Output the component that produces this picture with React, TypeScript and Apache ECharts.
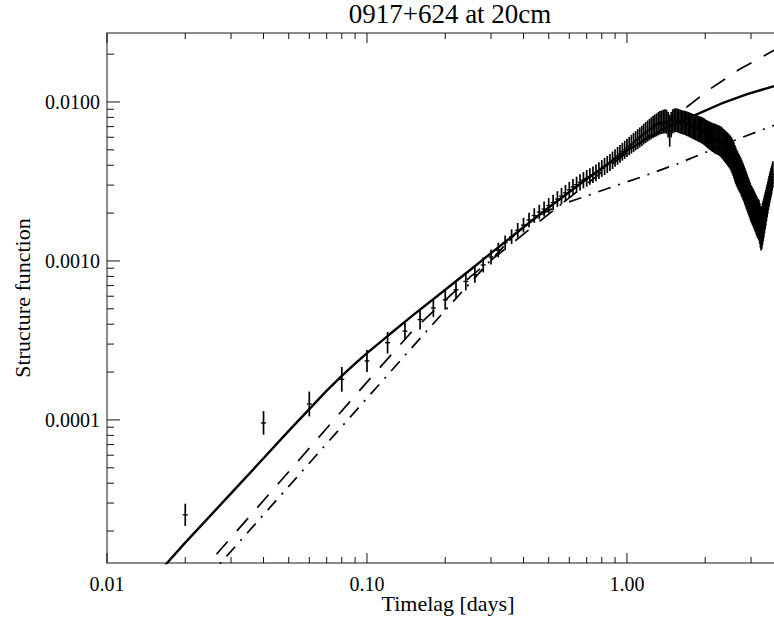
import { useEffect, useRef } from "react";
import * as echarts from "echarts";

// ---- axis ranges ----
const X_MIN = 0.01;
const X_MAX = 4.2;
const Y_MIN = 1.259e-5;
const Y_MAX = 0.02716;

// ---- tick values / labels ----
const xMajorTicks = [0.01, 0.1, 1];
const xMajorLabels = ["0.01", "0.10", "1.00"];
const xMinorTicks = [0.02, 0.03, 0.04, 0.05, 0.06, 0.07, 0.08, 0.09, 0.2, 0.3, 0.4, 0.5, 0.6, 0.7, 0.8, 0.9, 2, 3, 4];
const yMajorTicks = [0.0001, 0.001, 0.01];
const yMajorLabels = ["0.0001", "0.0010", "0.0100"];
const yMinorTicks = [
  2e-5, 3e-5, 4e-5, 5e-5, 6e-5, 7e-5, 8e-5, 9e-5,
  2e-4, 3e-4, 4e-4, 5e-4, 6e-4, 7e-4, 8e-4, 9e-4,
  2e-3, 3e-3, 4e-3, 5e-3, 6e-3, 7e-3, 8e-3, 9e-3,
  0.02,
];

// ---- measured structure function (lags binned every 0.02 d) ----
const sfValues = [
  2.53e-5, 9.57e-5, 1.26e-4, 1.80e-4, 2.35e-4, 3.06e-4, 3.62e-4, 4.28e-4, 5.06e-4, 5.70e-4,
  6.59e-4, 7.43e-4, 8.18e-4, 9.44e-4, 1.06e-3, 1.17e-3, 1.30e-3, 1.42e-3, 1.56e-3, 1.68e-3,
  1.81e-3, 1.93e-3, 2.03e-3, 2.12e-3, 2.23e-3, 2.33e-3, 2.45e-3, 2.56e-3, 2.68e-3, 2.80e-3,
  2.92e-3, 3.02e-3, 3.12e-3, 3.22e-3, 3.31e-3, 3.40e-3, 3.49e-3, 3.58e-3, 3.70e-3, 3.82e-3,
  3.93e-3, 4.04e-3, 4.16e-3, 4.30e-3, 4.44e-3, 4.58e-3, 4.72e-3, 4.86e-3, 5.00e-3, 5.14e-3,
  5.28e-3, 5.42e-3, 5.56e-3, 5.70e-3, 5.84e-3, 5.98e-3, 6.12e-3, 6.28e-3, 6.42e-3, 6.56e-3,
  6.70e-3, 6.84e-3, 6.97e-3, 7.08e-3, 7.18e-3, 7.30e-3, 7.40e-3, 7.46e-3, 7.52e-3, 7.56e-3,
  7.50e-3, 7.20e-3, 6.60e-3, 7.20e-3, 7.55e-3, 7.65e-3, 7.68e-3, 7.66e-3, 7.60e-3, 7.54e-3,
  7.48e-3, 7.44e-3, 7.40e-3, 7.36e-3, 7.30e-3, 7.24e-3, 7.18e-3, 7.12e-3, 7.06e-3, 7.00e-3,
  6.95e-3, 6.90e-3, 6.84e-3, 6.78e-3, 6.74e-3, 6.70e-3, 6.64e-3, 6.58e-3, 6.50e-3, 6.42e-3,
  6.34e-3, 6.27e-3, 6.20e-3, 6.14e-3, 6.08e-3, 6.02e-3, 5.97e-3, 5.92e-3, 5.88e-3, 5.84e-3,
  5.80e-3, 5.76e-3, 5.72e-3, 5.67e-3, 5.60e-3, 5.52e-3, 5.44e-3, 5.36e-3, 5.28e-3, 5.20e-3,
  5.12e-3, 5.04e-3, 4.96e-3, 4.88e-3, 4.80e-3, 4.68e-3, 4.56e-3, 4.44e-3, 4.28e-3, 4.12e-3,
  3.98e-3, 3.86e-3, 3.76e-3, 3.66e-3, 3.58e-3, 3.50e-3, 3.42e-3, 3.32e-3, 3.22e-3, 3.14e-3,
  3.05e-3, 2.95e-3, 2.86e-3, 2.77e-3, 2.68e-3, 2.60e-3, 2.52e-3, 2.45e-3, 2.37e-3, 2.30e-3,
  2.25e-3, 2.20e-3, 2.15e-3, 2.10e-3, 2.05e-3, 2.00e-3, 1.95e-3, 1.90e-3, 1.85e-3, 1.84e-3,
  1.80e-3, 1.72e-3, 1.64e-3, 1.58e-3, 1.62e-3, 1.70e-3, 1.78e-3, 1.86e-3, 1.96e-3, 2.06e-3,
  2.16e-3, 2.27e-3, 2.38e-3, 2.50e-3, 2.62e-3, 2.74e-3, 2.86e-3, 2.98e-3, 3.10e-3, 3.22e-3,
  3.36e-3, 3.50e-3,
];
// half length of each error bar, in decades
const sfErrDex = [
  0.070, 0.074, 0.078, 0.078, 0.069, 0.068, 0.053, 0.062, 0.056, 0.062,
  0.056, 0.056, 0.050, 0.047, 0.047, 0.046, 0.046, 0.046, 0.046, 0.046,
  0.046, 0.046, 0.046, 0.047, 0.048, 0.049, 0.050, 0.050, 0.050, 0.050,
  0.050, 0.050, 0.051, 0.051, 0.052, 0.052, 0.052, 0.053, 0.053, 0.053,
  0.054, 0.054, 0.054, 0.055, 0.055, 0.056, 0.056, 0.056, 0.057, 0.057,
  0.058, 0.059, 0.060, 0.061, 0.062, 0.063, 0.064, 0.065, 0.066, 0.067,
  0.068, 0.069, 0.070, 0.071, 0.072, 0.073, 0.074, 0.074, 0.075, 0.075,
  0.076, 0.080, 0.100, 0.080, 0.076, 0.075, 0.075, 0.075, 0.075, 0.075,
  0.075, 0.075, 0.076, 0.076, 0.077, 0.077, 0.078, 0.078, 0.079, 0.079,
  0.080, 0.080, 0.081, 0.081, 0.082, 0.082, 0.083, 0.083, 0.084, 0.084,
  0.085, 0.086, 0.087, 0.088, 0.089, 0.090, 0.091, 0.092, 0.093, 0.093,
  0.094, 0.094, 0.094, 0.095, 0.096, 0.097, 0.098, 0.099, 0.100, 0.101,
  0.102, 0.103, 0.104, 0.105, 0.106, 0.108, 0.110, 0.112, 0.114, 0.115,
  0.115, 0.115, 0.115, 0.115, 0.115, 0.115, 0.115, 0.115, 0.115, 0.115,
  0.115, 0.115, 0.115, 0.115, 0.115, 0.115, 0.115, 0.115, 0.115, 0.115,
  0.116, 0.117, 0.118, 0.119, 0.120, 0.121, 0.122, 0.123, 0.124, 0.125,
  0.127, 0.129, 0.131, 0.133, 0.134, 0.132, 0.128, 0.124, 0.120, 0.116,
  0.112, 0.108, 0.104, 0.100, 0.098, 0.096, 0.094, 0.092, 0.090, 0.088,
  0.085, 0.083,
];
const LAG_STEP = 0.02;
const sfLags = sfValues.map((_, i) => Math.round((i + 1) * LAG_STEP * 100) / 100);

// ---- model curves ----
const solidLags = [0.015, 0.02, 0.03, 0.04, 0.05, 0.06, 0.07, 0.08, 0.09, 0.10, 0.12, 0.15, 0.20, 0.25, 0.30, 0.40, 0.50, 0.70, 1.00, 1.40, 1.80, 2.30, 2.90, 3.60, 4.20];
const solidVals = [1.0e-5, 1.69e-5, 3.45e-5, 5.74e-5, 8.53e-5, 1.17e-4, 1.53e-4, 1.89e-4, 2.26e-4, 2.63e-4, 3.37e-4, 4.55e-4, 6.59e-4, 8.80e-4, 1.12e-3, 1.63e-3, 2.17e-3, 3.28e-3, 4.95e-3, 6.81e-3, 8.18e-3, 9.75e-3, 1.12e-2, 1.245e-2, 1.33e-2];

const dashedLags = [0.022, 0.05, 0.10, 0.15, 0.25, 0.40, 0.70, 1.00, 1.70, 2.10, 2.70, 3.40, 4.20];
const dashedVals = [1.02e-5, 4.72e-5, 1.73e-4, 3.65e-4, 7.96e-4, 1.475e-3, 3.05e-3, 4.82e-3, 9.30e-3, 1.215e-2, 1.60e-2, 1.97e-2, 2.38e-2];

const dashDotLags = [0.024, 0.05, 0.10, 0.15, 0.20, 0.30, 0.35, 0.40, 0.45, 0.50, 0.56, 0.65, 0.86, 1.15, 1.55, 2.08, 2.71, 3.63, 4.20];
const dashDotVals = [9.9e-6, 3.82e-5, 1.37e-4, 2.89e-4, 4.89e-4, 1.015e-3, 1.33e-3, 1.64e-3, 1.90e-3, 2.08e-3, 2.27e-3, 2.46e-3, 2.89e-3, 3.40e-3, 4.06e-3, 4.94e-3, 5.90e-3, 7.08e-3, 7.67e-3];

const SERIF = '"Liberation Serif", "Times New Roman", serif';

export default function App() {
  const ref = useRef<HTMLDivElement>(null);

  useEffect(() => {
    document.body.style.margin = "0";
    if (!ref.current) return;
    const chart = echarts.init(ref.current, undefined, { renderer: "svg" });

    const tickStyle = { stroke: "#111", lineWidth: 1 };

    const xTickData = [
      ...xMajorTicks.map((v) => [v, Y_MIN, 1]),
      ...xMinorTicks.map((v) => [v, Y_MIN, 0]),
    ];
    const yTickData = [
      ...yMajorTicks.map((v) => [X_MIN, v, 1]),
      ...yMinorTicks.map((v) => [X_MIN, v, 0]),
    ];

    const errData = sfLags.map((l, i) => {
      const f = Math.pow(10, sfErrDex[i]);
      return [l, sfValues[i], sfValues[i] / f, sfValues[i] * f];
    });

    const option: any = {
      animation: false,
      backgroundColor: "#fff",
      grid: {
        left: 107,
        top: 33,
        width: 682,
        height: 533,
        show: true,
        borderColor: "#666",
        borderWidth: 1.5,
        backgroundColor: "transparent",
      },
      graphic: [
        {
          type: "text",
          x: 450,
          y: 14,
          style: {
            text: "0917+624 at 20cm",
            fontFamily: SERIF,
            fontSize: 27,
            fill: "#000",
            textAlign: "center",
            textVerticalAlign: "middle",
          },
        },
      ],
      xAxis: {
        type: "log",
        logBase: 10,
        min: X_MIN,
        max: X_MAX,
        axisLine: { show: false },
        axisTick: { show: false },
        axisLabel: { show: false },
        splitLine: { show: false },
        name: "Timelag [days]",
        nameLocation: "middle",
        nameGap: 29,
        nameTextStyle: { fontFamily: SERIF, fontSize: 22, color: "#000" },
      },
      yAxis: {
        type: "log",
        logBase: 10,
        min: Y_MIN,
        max: Y_MAX,
        axisLine: { show: false },
        axisTick: { show: false },
        axisLabel: { show: false },
        splitLine: { show: false },
        name: "Structure function",
        nameLocation: "middle",
        nameGap: 74,
        nameTextStyle: { fontFamily: SERIF, fontSize: 22, color: "#000" },
      },
      series: [
        {
          type: "line",
          name: "solid",
          data: solidLags.map((l, i) => [l, solidVals[i]]),
          showSymbol: false,
          symbol: "none",
          smooth: false,
          lineStyle: { color: "#000", width: 2.4, type: "solid" },
          z: 3,
        },
        {
          type: "line",
          name: "dashed",
          data: dashedLags.map((l, i) => [l, dashedVals[i]]),
          showSymbol: false,
          symbol: "none",
          smooth: false,
          lineStyle: { color: "#000", width: 1.7, type: [17, 14] },
          z: 3,
        },
        {
          type: "line",
          name: "dashdot",
          data: dashDotLags.map((l, i) => [l, dashDotVals[i]]),
          showSymbol: false,
          symbol: "none",
          smooth: false,
          lineStyle: { color: "#000", width: 1.7, type: [13, 8, 2, 8] },
          z: 3,
        },
        {
          type: "custom",
          name: "errors",
          silent: true,
          clip: true,
          z: 4,
          data: errData,
          encode: { x: 0, y: 1 },
          renderItem: (params: any, api: any) => {
            const x = api.value(0);
            const v = api.value(1);
            const p = api.coord([x, v]);
            const pl = api.coord([x, api.value(2)]);
            const ph = api.coord([x, api.value(3)]);
            return {
              type: "group",
              children: [
                {
                  type: "line",
                  shape: { x1: p[0], y1: pl[1], x2: p[0], y2: ph[1] },
                  style: { stroke: "#000", lineWidth: 1.7 },
                },
                {
                  type: "line",
                  shape: { x1: p[0] - 2.5, y1: p[1], x2: p[0] + 2.5, y2: p[1] },
                  style: { stroke: "#000", lineWidth: 1.3 },
                },
              ],
            };
          },
        },
        {
          type: "custom",
          name: "xticks",
          silent: true,
          clip: false,
          z: 5,
          data: xTickData,
          encode: { x: 0, y: 1 },
          renderItem: (params: any, api: any) => {
            const v = api.value(0);
            const major = api.value(2) === 1;
            const b = api.coord([v, Y_MIN]);
            const t = api.coord([v, Y_MAX]);
            const len = major ? 10 : 6;
            return {
              type: "group",
              children: [
                { type: "line", shape: { x1: b[0], y1: b[1], x2: b[0], y2: b[1] - len }, style: tickStyle },
                { type: "line", shape: { x1: t[0], y1: t[1], x2: t[0], y2: t[1] + len }, style: tickStyle },
              ],
            };
          },
        },
        {
          type: "custom",
          name: "yticks",
          silent: true,
          clip: false,
          z: 5,
          data: yTickData,
          encode: { x: 0, y: 1 },
          renderItem: (params: any, api: any) => {
            const v = api.value(1);
            const major = api.value(2) === 1;
            const l = api.coord([X_MIN, v]);
            const r = api.coord([X_MAX, v]);
            const len = major ? 13 : 7;
            return {
              type: "group",
              children: [
                { type: "line", shape: { x1: l[0], y1: l[1], x2: l[0] + len, y2: l[1] }, style: tickStyle },
                { type: "line", shape: { x1: r[0], y1: r[1], x2: r[0] - len, y2: r[1] }, style: tickStyle },
              ],
            };
          },
        },
        {
          type: "custom",
          name: "xlabels",
          silent: true,
          clip: false,
          z: 6,
          data: xMajorTicks.map((v) => [v, Y_MIN]),
          encode: { x: 0, y: 1 },
          renderItem: (params: any, api: any) => {
            const p = api.coord([api.value(0), api.value(1)]);
            return {
              type: "text",
              x: p[0],
              y: p[1] + 21,
              style: {
                text: xMajorLabels[params.dataIndex],
                fontFamily: SERIF,
                fontSize: 20,
                fill: "#000",
                textAlign: "center",
                textVerticalAlign: "middle",
              },
            };
          },
        },
        {
          type: "custom",
          name: "ylabels",
          silent: true,
          clip: false,
          z: 6,
          data: yMajorTicks.map((v) => [X_MIN, v]),
          encode: { x: 0, y: 1 },
          renderItem: (params: any, api: any) => {
            const p = api.coord([api.value(0), api.value(1)]);
            return {
              type: "text",
              x: p[0] - 7,
              y: p[1],
              style: {
                text: yMajorLabels[params.dataIndex],
                fontFamily: SERIF,
                fontSize: 20,
                fill: "#000",
                textAlign: "right",
                textVerticalAlign: "middle",
              },
            };
          },
        },
      ],
    };

    chart.setOption(option);
    return () => {
      chart.dispose();
    };
  }, []);

  return (
    <div style={{ position: "absolute", left: 0, top: 0, width: 774, height: 619, overflow: "hidden", background: "#fff" }}>
      <div ref={ref} style={{ width: 900, height: 619 }} />
    </div>
  );
}
